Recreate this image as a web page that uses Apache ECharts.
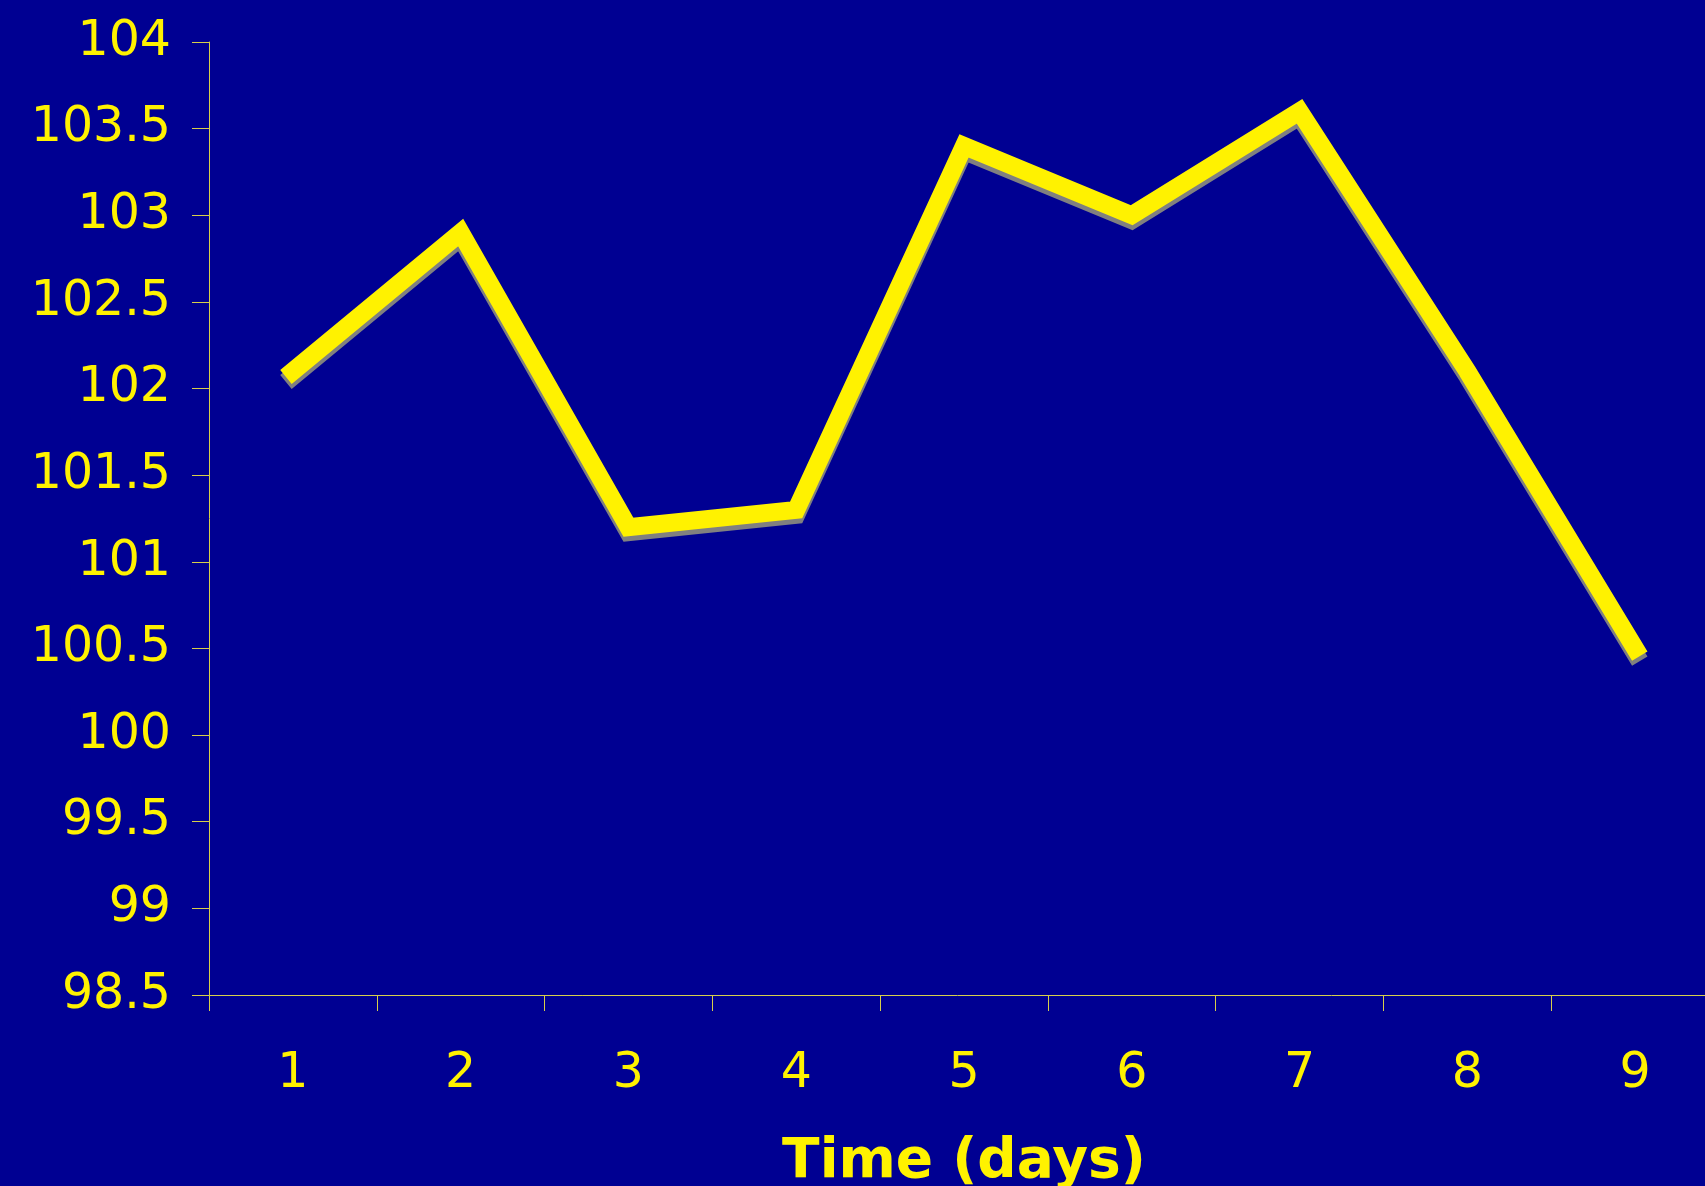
<!DOCTYPE html>
<html>
<head>
<meta charset="utf-8">
<script src="https://cdn.jsdelivr.net/npm/echarts@6/dist/echarts.min.js"></script>
<style>
html,body{margin:0;padding:0;background:#000092;}
#chart{width:1705px;height:1186px;}
</style>
</head>
<body>
<div id="chart"></div>
<script>
const categories = ['1','2','3','4','5','6','7','8','9'];
const temperature = [102.1, 102.9, 101.2, 101.3, 103.4, 103.0, 103.6, 102.1, 100.5];
const xAxisTitle = 'Time (days)';
const yMin = 98.5, yMax = 104, yStep = 0.5;

const yellow = '#fff200';
const axisCol = '#d6cf4a';
const chart = echarts.init(document.getElementById('chart'));
chart.setOption({
  backgroundColor: '#000092',
  animation: false,
  grid: { left: 209, width: 1510, top: 42, bottom: 191, containLabel: false, outerBoundsMode: 'none' },
  xAxis: {
    type: 'category',
    data: categories,
    boundaryGap: true,
    name: xAxisTitle,
    nameLocation: 'middle',
    nameGap: 140,
    nameTextStyle: { color: yellow, fontSize: 55, fontWeight: 'bold', fontFamily: 'DejaVu Sans' },
    axisLine: { show: true, lineStyle: { color: axisCol, width: 1 } },
    axisTick: { show: true, length: 16, alignWithLabel: false, lineStyle: { color: axisCol, width: 1 } },
    axisLabel: { color: yellow, fontSize: 49, fontFamily: 'DejaVu Sans', margin: 55 },
    splitLine: { show: false }
  },
  yAxis: {
    type: 'value',
    min: yMin, max: yMax, interval: yStep,
    axisLine: { show: true, lineStyle: { color: axisCol, width: 1 } },
    axisTick: { show: true, length: 17, lineStyle: { color: axisCol, width: 1 } },
    axisLabel: { color: yellow, fontSize: 49, fontFamily: 'DejaVu Sans', margin: 38 },
    splitLine: { show: false }
  },
  series: [{
    type: 'line',
    data: temperature,
    symbol: 'none',
    lineStyle: {
      color: yellow, width: 18, cap: 'square', join: 'miter',
      shadowColor: '#808080', shadowBlur: 0, shadowOffsetX: 0, shadowOffsetY: 5
    }
  }]
});
</script>
</body>
</html>
